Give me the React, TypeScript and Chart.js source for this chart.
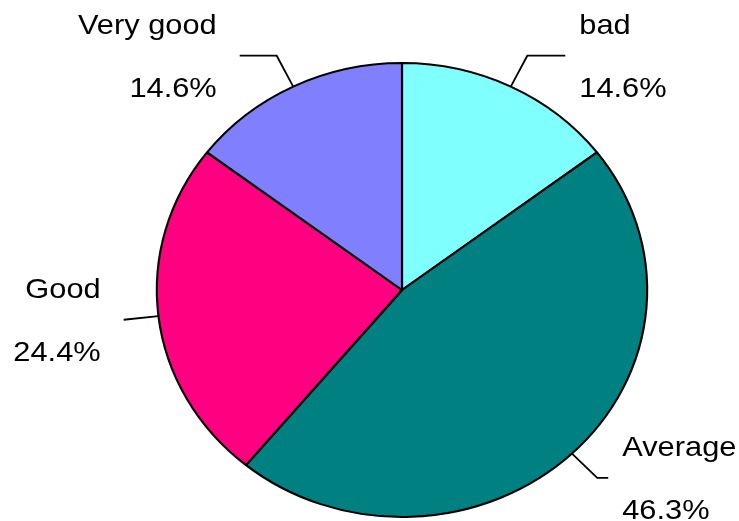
import React, { useEffect, useRef } from "react";
import { Chart, registerables } from "chart.js";

Chart.register(...registerables);

// ---- data ----
const categories = ["bad", "Average", "Good", "Very good"];
const counts = [6, 19, 10, 6];
const percentLabels = ["14.6%", "46.3%", "24.4%", "14.6%"];
const colors = ["#80FFFF", "#008080", "#FF0080", "#8080FF"];
// horizontal run of each leader line (negative = to the left)
const leaderRun = [38, 11, 0, -37];

const STRETCH = 1.08; // the original picture is slightly wider than tall
const TEXT_STRETCH = 1.1;
const LEADER_LEN = 35;
const FONT = "28px 'Liberation Sans', Arial, sans-serif";

const stretchPlugin = {
  id: "stretchAndLabels",
  beforeDatasetsDraw(chart: any) {
    const ctx = chart.ctx;
    const ca = chart.chartArea;
    const cx = (ca.left + ca.right) / 2;
    ctx.save();
    ctx.translate(cx, 0);
    ctx.scale(STRETCH, 1);
    ctx.translate(-cx, 0);
  },
  afterDatasetsDraw(chart: any) {
    const ctx = chart.ctx;
    ctx.restore();
    const meta = chart.getDatasetMeta(0);
    meta.data.forEach((arc: any, i: number) => {
      const { x, y, outerRadius, startAngle, endAngle } = arc.getProps(
        ["x", "y", "outerRadius", "startAngle", "endAngle"],
        true
      );
      const mid = (startAngle + endAngle) / 2;
      const ax = x + Math.cos(mid) * outerRadius * STRETCH;
      const ay = y + Math.sin(mid) * outerRadius;
      let dx = Math.cos(mid) * STRETCH;
      let dy = Math.sin(mid);
      const len = Math.hypot(dx, dy);
      dx /= len;
      dy /= len;
      const bx = ax + dx * LEADER_LEN;
      const by = ay + dy * LEADER_LEN;
      const ex = bx + leaderRun[i];
      const ey = by;

      ctx.save();
      ctx.strokeStyle = "#000";
      ctx.lineWidth = 1.8;
      ctx.beginPath();
      ctx.moveTo(ax, ay);
      ctx.lineTo(bx, by);
      ctx.lineTo(ex, ey);
      ctx.stroke();

      const rightSide = Math.cos(mid) > 0;
      const tx = rightSide ? ex + 14 : ex - 23;
      ctx.fillStyle = "#000";
      ctx.font = FONT;
      ctx.textAlign = rightSide ? "left" : "right";
      ctx.textBaseline = "alphabetic";
      const lines = [categories[i], percentLabels[i]];
      const baselines = [ey - 22, ey + 41];
      lines.forEach((s, k) => {
        ctx.save();
        ctx.translate(tx, baselines[k]);
        ctx.scale(TEXT_STRETCH, 1);
        ctx.fillText(s, 0, 0);
        ctx.restore();
      });
      ctx.restore();
    });
  },
};

export default function App() {
  const canvasRef = useRef<HTMLCanvasElement | null>(null);

  useEffect(() => {
    if (!canvasRef.current) return;
    const chart = new Chart(canvasRef.current, {
      type: "pie",
      data: {
        labels: categories,
        datasets: [
          {
            data: counts,
            backgroundColor: colors,
            borderColor: "#000000",
            borderWidth: 2,
            clip: false,
          } as any,
        ],
      },
      options: {
        responsive: false,
        animation: false,
        layout: { padding: { left: 174, right: 109, top: 62, bottom: 3 } },
        plugins: {
          legend: { display: false },
          tooltip: { enabled: false },
        },
      },
      plugins: [stretchPlugin],
    });
    return () => chart.destroy();
  }, []);

  return (
    <div style={{ position: "absolute", left: 0, top: 0, width: 739, height: 521, background: "#fff" }}>
      <canvas ref={canvasRef} width={739} height={521} style={{ width: 739, height: 521 }} />
    </div>
  );
}
